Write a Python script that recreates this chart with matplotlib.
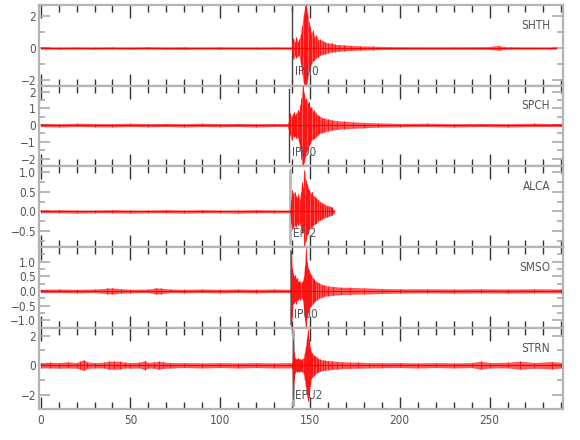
import matplotlib
matplotlib.use("Agg")
import matplotlib.pyplot as plt
from matplotlib import font_manager
from matplotlib.ticker import MultipleLocator

# narrow sans, as in the reference, if one is installed
installed = {f.name for f in font_manager.fontManager.ttflist}
if "Liberation Sans Narrow" in installed:
    plt.rcParams['font.family'] = ['Liberation Sans Narrow', 'DejaVu Sans']
else:
    plt.rcParams['font.family'] = ['DejaVu Sans']
    plt.rcParams['font.stretch'] = 'condensed'

stations = ["SHTH", "SPCH", "ALCA", "SMSO", "STRN"]
pick_labels = ["IPU0", "IPD0", "EP-2", "IPU0", "EPU2"]
pick_times = [140.0, 138.2, 139.1, 139.5, 140.3]
ylims = [(-2.35, 2.69), (-2.47, 2.35), (-0.916, 1.145), (-1.27, 1.49), (-2.95, 2.5)]
ymajor = [2, 1, 0.5, 0.5, 2]
yminor = [1, 0.5, 0.25, 0.25, 1]

# envelope of each trace: time (s), upper and lower amplitude
t_shth = [0, 10, 20, 30, 40, 50, 60, 70, 80, 90, 100, 110, 120, 130, 139.8,
          140.0, 140.8, 141.6, 142.4, 143.2, 144.0, 144.8, 145.6, 146.4, 147.2,
          147.9, 148.6, 149.3, 150.0, 150.8, 151.6, 152.5, 153.5, 154.5, 155.5,
          157, 158.5, 160, 162, 164, 166, 169, 173, 178, 185, 195, 210, 230, 250,
          255, 258, 262, 275, 287]
hi_shth = [0.07, 0.06, 0.07, 0.06, 0.07, 0.06, 0.08, 0.06, 0.07, 0.06, 0.07, 0.06, 0.06, 0.07, 0.06,
           0.45, 0.6, 0.35, 0.7, 0.4, 0.55, 0.9, 1.4, 2.1, 2.6,
           2.7, 2.2, 1.6, 1.3, 0.9, 1.1, 0.7, 0.8, 0.5, 0.55,
           0.45, 0.35, 0.3, 0.3, 0.22, 0.2, 0.18, 0.15, 0.12, 0.1, 0.08, 0.07, 0.07, 0.08,
           0.15, 0.08, 0.07, 0.06, 0.06]
lo_shth = [-0.06, -0.07, -0.06, -0.07, -0.06, -0.07, -0.06, -0.07, -0.08, -0.06, -0.07, -0.06, -0.07, -0.06, -0.06,
           -0.35, -0.7, -0.45, -0.6, -0.5, -0.45, -1.0, -1.6, -2.2, -2.5,
           -2.4, -2.0, -1.5, -1.2, -1.0, -0.8, -0.75, -0.6, -0.55, -0.45,
           -0.4, -0.35, -0.3, -0.25, -0.22, -0.2, -0.17, -0.15, -0.12, -0.1, -0.08, -0.07, -0.07, -0.08,
           -0.14, -0.08, -0.07, -0.06, -0.06]

t_spch = [0, 10, 20, 30, 40, 50, 60, 70, 80, 90, 100, 110, 120, 130, 137.5,
          138.4, 139.0, 139.7, 140.3, 141.0, 141.7, 142.4, 143.1, 143.8, 144.5,
          145.2, 145.9, 146.6, 147.3, 148.0, 148.7, 149.4, 150.1, 150.8, 151.5,
          152.3, 153.2, 154.2, 155.2, 156.5, 158, 160, 162, 165, 169,
          174, 180, 188, 200, 215, 230, 245, 260, 275, 290]
hi_spch = [0.09, 0.08, 0.1, 0.09, 0.08, 0.1, 0.08, 0.09, 0.08, 0.1, 0.08, 0.09, 0.08, 0.09, 0.08,
           0.3, 0.7, 0.5, 0.65, 0.8, 0.6, 0.7, 0.9, 0.8, 1.2,
           1.6, 2.35, 1.9, 1.5, 1.6, 1.3, 1.4, 1.0, 1.1, 0.8,
           0.9, 0.7, 0.6, 0.55, 0.45, 0.4, 0.35, 0.3, 0.25, 0.22,
           0.18, 0.15, 0.12, 0.09, 0.1, 0.08, 0.09, 0.08, 0.1, 0.08]
lo_spch = [-0.08, -0.1, -0.08, -0.09, -0.1, -0.08, -0.09, -0.08, -0.1, -0.08, -0.09, -0.08, -0.1, -0.08, -0.08,
           -0.4, -0.6, -0.9, -0.6, -0.7, -0.65, -0.8, -0.7, -1.0, -1.4,
           -2.0, -2.7, -2.2, -1.9, -1.6, -1.5, -1.2, -1.1, -0.9, -0.85,
           -0.8, -0.7, -0.6, -0.5, -0.45, -0.4, -0.35, -0.3, -0.25, -0.22,
           -0.18, -0.15, -0.12, -0.09, -0.08, -0.1, -0.08, -0.1, -0.08, -0.08]

t_alca = [0, 10, 20, 30, 40, 50, 60, 70, 80, 90, 100, 110, 120, 130, 139.0,
          139.4, 140.0, 140.7, 141.4, 142.1, 142.8, 143.5, 144.2, 144.9, 145.5,
          146.2, 146.9, 147.5, 148.2, 148.9, 149.6, 150.3, 151.0, 151.8, 152.6,
          153.5, 154.5, 155.5, 156.5, 157.5, 158.5, 159.5, 160.5, 161.5, 162.5, 163.2]
hi_alca = [0.03, 0.04, 0.03, 0.03, 0.04, 0.03, 0.03, 0.04, 0.03, 0.04, 0.03, 0.03, 0.04, 0.03, 0.03,
           0.3, 0.55, 0.45, 0.5, 0.4, 0.35, 0.45, 0.3, 0.5, 0.75,
           0.6, 1.05, 0.8, 0.7, 0.6, 0.55, 0.45, 0.5, 0.4, 0.38,
           0.33, 0.3, 0.25, 0.22, 0.2, 0.17, 0.15, 0.14, 0.12, 0.1, 0.04]
lo_alca = [-0.03, -0.03, -0.04, -0.03, -0.03, -0.04, -0.03, -0.03, -0.04, -0.03, -0.03, -0.04, -0.03, -0.03, -0.03,
           -0.3, -0.45, -0.4, -0.35, -0.4, -0.3, -0.35, -0.3, -0.4, -0.55,
           -0.5, -0.9, -0.75, -0.6, -0.55, -0.45, -0.4, -0.4, -0.35, -0.32,
           -0.3, -0.25, -0.22, -0.2, -0.17, -0.15, -0.14, -0.12, -0.1, -0.09, -0.04]

t_smso = [0, 10, 20, 30, 37, 40, 45, 50, 60, 64, 67, 72, 80, 90, 100, 110, 120, 130, 139.0,
          139.3, 139.6, 140.0, 140.5, 141.1, 141.7, 142.3, 142.9, 143.5, 144.1,
          144.7, 145.3, 145.9, 146.5, 147.1, 147.6, 148.2, 148.8, 149.4, 150.0,
          150.7, 151.4, 152.2, 153.0, 154.0, 155.0, 156.5, 158, 160, 163,
          167, 172, 180, 190, 200, 215, 230, 245, 260, 275, 290]
hi_smso = [0.05, 0.06, 0.05, 0.06, 0.09, 0.1, 0.07, 0.05, 0.06, 0.1, 0.09, 0.06, 0.05, 0.06, 0.05, 0.06, 0.05, 0.06, 0.05,
           0.1, 1.37, 0.8, 0.6, 0.5, 0.55, 0.4, 0.45, 0.3, 0.35,
           0.3, 0.3, 0.35, 0.5, 0.9, 1.45, 1.0, 0.8, 0.7, 0.6,
           0.55, 0.45, 0.4, 0.35, 0.3, 0.28, 0.22, 0.2, 0.16, 0.15,
           0.12, 0.12, 0.1, 0.08, 0.07, 0.07, 0.06, 0.07, 0.06, 0.07, 0.06]
lo_smso = [-0.05, -0.05, -0.06, -0.05, -0.09, -0.1, -0.07, -0.06, -0.05, -0.1, -0.09, -0.05, -0.06, -0.05, -0.06, -0.05, -0.06, -0.05, -0.05,
           -0.1, -1.58, -0.9, -0.45, -0.4, -0.35, -0.45, -0.3, -0.3, -0.25,
           -0.3, -0.25, -0.3, -0.6, -1.0, -1.33, -0.9, -0.75, -0.6, -0.55,
           -0.5, -0.45, -0.38, -0.33, -0.3, -0.25, -0.22, -0.18, -0.16, -0.14,
           -0.12, -0.11, -0.1, -0.08, -0.07, -0.06, -0.07, -0.06, -0.07, -0.06, -0.06]

t_strn = [0, 5, 10, 15, 20, 22, 24, 26, 30, 35, 38, 41, 44, 47, 50, 55, 58, 60, 63, 66, 68, 72,
          80, 90, 100, 110, 120, 130, 139.8,
          140.1, 140.5, 141.0, 141.6, 142.2, 142.8, 143.4, 144.0, 144.6, 145.2,
          145.8, 146.4, 147.0, 147.6, 148.2, 148.8, 149.4, 150.0, 150.6, 151.3,
          152.0, 152.8, 153.7, 154.6, 155.6, 157, 158.5, 160, 162, 165,
          168, 172, 177, 183, 190, 200, 210, 220, 230, 240, 245, 250, 260, 267, 275, 285, 290]
hi_strn = [0.17, 0.19, 0.17, 0.21, 0.17, 0.26, 0.35, 0.21, 0.17, 0.19, 0.26, 0.26, 0.26, 0.19, 0.17, 0.19, 0.3, 0.17, 0.21, 0.26, 0.21, 0.17,
           0.17, 0.15, 0.17, 0.15, 0.17, 0.15, 0.17,
           0.2, 1.8, 0.9, 0.5, 0.45, 0.4, 0.5, 0.4, 0.45, 0.35,
           0.45, 0.5, 0.9, 1.3, 1.9, 2.4, 1.8, 1.2, 0.9, 0.8,
           0.7, 0.6, 0.55, 0.45, 0.4, 0.35, 0.32, 0.3, 0.28, 0.25,
           0.22, 0.2, 0.19, 0.17, 0.16, 0.17, 0.15, 0.17, 0.15, 0.17, 0.26, 0.17, 0.19, 0.26, 0.17, 0.24, 0.17]
lo_strn = [-0.17, -0.17, -0.19, -0.17, -0.19, -0.26, -0.35, -0.21, -0.17, -0.17, -0.26, -0.26, -0.24, -0.17, -0.19, -0.17, -0.3, -0.17, -0.19, -0.26, -0.21, -0.17,
           -0.15, -0.17, -0.15, -0.17, -0.15, -0.17, -0.17,
           -0.2, -2.3, -1.0, -0.5, -0.4, -0.45, -0.4, -0.45, -0.4, -0.4,
           -0.45, -0.6, -1.0, -1.5, -2.0, -2.4, -2.1, -1.4, -0.9, -0.8,
           -0.7, -0.6, -0.5, -0.45, -0.4, -0.35, -0.32, -0.3, -0.28, -0.25,
           -0.22, -0.2, -0.19, -0.17, -0.16, -0.15, -0.17, -0.15, -0.17, -0.15, -0.26, -0.17, -0.17, -0.26, -0.19, -0.24, -0.17]

traces = [(t_shth, hi_shth, lo_shth), (t_spch, hi_spch, lo_spch), (t_alca, hi_alca, lo_alca),
          (t_smso, hi_smso, lo_smso), (t_strn, hi_strn, lo_strn)]
pick_colors = ["#444444", "#444444", "#b8b8b8", "#888888", "#aaaaaa"]
pick_widths = [1.0, 1.0, 2.0, 1.5, 2.0]

fig, axes = plt.subplots(5, 1, figsize=(5.8, 4.4), dpi=100, sharex=True)
fig.subplots_adjust(left=0.067, right=0.971, top=0.989, bottom=0.0705, hspace=0)

for i, ax in enumerate(axes):
    t, hi, lo = traces[i]
    assert len(t) == len(hi) == len(lo), (stations[i], len(t), len(hi), len(lo))
    ax.fill_between(t, lo, hi, color="#ff2020", lw=0.2, alpha=0.75, clip_on=False, zorder=3)
    ax.vlines(t, lo, hi, color="red", lw=0.6, alpha=0.9, clip_on=False, zorder=3)
    ax.hlines(0, t[0], t[-1], color="red", lw=0.8, zorder=3)
    ax.axvline(pick_times[i], ymin=0.05, ymax=0.96, color=pick_colors[i],
               lw=pick_widths[i], zorder=2)
    ax.text(pick_times[i] + 1.5, 0.17, pick_labels[i], transform=ax.get_xaxis_transform(),
            fontsize=8.5, color="#555555", ha="left", va="center", zorder=4)
    ax.text(0.975, 0.75, stations[i], transform=ax.transAxes, fontsize=8.5,
            color="#555555", ha="right", va="center")
    ax.set_ylim(*ylims[i])
    ax.set_xlim(-1, 291)
    ax.yaxis.set_major_locator(MultipleLocator(ymajor[i]))
    ax.yaxis.set_minor_locator(MultipleLocator(yminor[i]))
    ax.xaxis.set_major_locator(MultipleLocator(50))
    ax.xaxis.set_minor_locator(MultipleLocator(10))
    for s in ax.spines.values():
        s.set_color("#b4b4b4")
        s.set_linewidth(1.6)
    ax.tick_params(axis="x", which="both", direction="in", top=True, bottom=True,
                   color="#333333", labelcolor="#555555", labelsize=8.5)
    ax.tick_params(axis="x", which="major", length=9, width=1)
    ax.tick_params(axis="x", which="minor", length=5, width=1)
    ax.tick_params(axis="y", which="both", direction="in", left=True, right=True,
                   color="#aaaaaa", labelcolor="#555555", labelsize=8.5, pad=2)
    ax.tick_params(axis="y", which="major", length=8, width=1.2)
    ax.tick_params(axis="y", which="minor", length=4, width=1.2)

fig.savefig("out.png", dpi=100)
